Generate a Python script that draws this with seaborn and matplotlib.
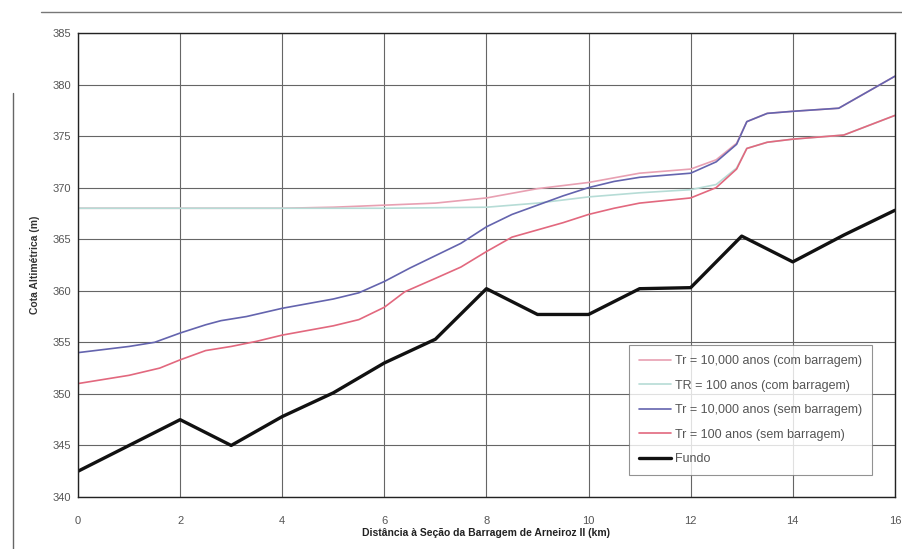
import matplotlib
matplotlib.use("Agg")
import matplotlib.pyplot as plt
import seaborn as sns
from matplotlib.lines import Line2D

# ---- data ----
fundo_km = [0, 2, 3, 4, 5, 6, 7, 8, 9, 10, 11, 12, 13, 14, 15, 16]
fundo = [342.5, 347.5, 345.0, 347.8, 350.1, 353.0, 355.3, 360.2, 357.7, 357.7,
         360.2, 360.3, 365.3, 362.8, 365.4, 367.8]

sem10k_km = [0, 1, 1.5, 2, 2.5, 2.8, 3.3, 4, 5, 5.5, 6, 6.5, 7, 7.5, 8, 8.5, 9, 9.5,
             10, 10.5, 11, 12, 12.5, 12.9, 13.1, 13.5, 14, 14.9, 16]
sem10k = [354.0, 354.6, 355.0, 355.9, 356.7, 357.1, 357.5, 358.3, 359.2, 359.8,
          360.9, 362.2, 363.4, 364.6, 366.2, 367.4, 368.3, 369.2, 370.0, 370.6,
          371.0, 371.4, 372.5, 374.2, 376.4, 377.2, 377.4, 377.7, 380.8]

sem100_km = [0, 1, 1.6, 2, 2.5, 3, 3.5, 4, 5, 5.5, 6, 6.4, 7, 7.5, 8, 8.5, 9, 9.5,
             10, 10.5, 11, 12, 12.5, 12.9, 13.1, 13.5, 14, 15, 16]
sem100 = [351.0, 351.8, 352.5, 353.3, 354.2, 354.6, 355.1, 355.7, 356.6, 357.2,
          358.4, 359.9, 361.2, 362.3, 363.8, 365.2, 365.9, 366.6, 367.4, 368.0,
          368.5, 369.0, 370.0, 371.8, 373.8, 374.4, 374.7, 375.1, 377.0]

com10k_km = [0, 2, 4, 5, 6, 7, 8, 9, 10, 11, 12, 12.5, 12.9, 13.1, 13.5, 14, 14.9, 16]
com10k = [368.0, 368.0, 368.0, 368.1, 368.3, 368.5, 369.0, 369.9, 370.5, 371.4,
          371.8, 372.7, 374.3, 376.4, 377.2, 377.4, 377.7, 380.8]

com100_km = [0, 2, 4, 6, 8, 9, 10, 11, 12, 12.5, 12.9, 13.1, 13.5, 14, 15, 16]
com100 = [368.0, 368.0, 368.0, 368.0, 368.1, 368.5, 369.1, 369.5, 369.8, 370.3,
          371.9, 373.8, 374.4, 374.7, 375.1, 377.0]

labels = ["Tr = 10,000 anos (com barragem)", "TR = 100 anos (com barragem)",
          "Tr = 10,000 anos (sem barragem)", "Tr = 100 anos (sem barragem)", "Fundo"]
yticks = [340, 345, 350, 355, 360, 365, 370, 375, 380, 385]
xticks = [0, 2, 4, 6, 8, 10, 12, 14, 16]

sns.set_style("white")
plt.rcParams['font.family'] = ['Liberation Sans', 'DejaVu Sans']

fig = plt.figure(figsize=(9.03, 5.49), dpi=100)
ax = fig.add_axes([0.0864, 0.0947, 0.9046, 0.8453])

series = [
    (com10k_km, com10k, "#e8a0b2", 1.2),
    (com100_km, com100, "#b6dcd6", 1.2),
    (sem10k_km, sem10k, "#6464ae", 1.2),
    (sem100_km, sem100, "#e2687e", 1.2),
    (fundo_km, fundo, "#111111", 2.4),
]
for (xs, ys, col, lw), lab in zip(series, labels):
    sns.lineplot(x=xs, y=ys, ax=ax, color=col, linewidth=lw, label=lab,
                 sort=False, estimator=None)

ax.set_xlim(0, 16)
ax.set_ylim(340, 385)
ax.set_xticks(xticks)
ax.set_yticks(yticks)
ax.set_xticklabels([str(t) for t in xticks])
ax.set_yticklabels([str(t) for t in yticks])
ax.tick_params(axis='both', labelsize=8, colors="#555555", length=3,
               direction='out')
ax.tick_params(axis='x', pad=11)
ax.tick_params(axis='y', pad=2)
ax.tick_params(axis='both', color="#222222")
ax.grid(True, color="#666666", linewidth=0.8)
ax.set_axisbelow(True)
for s in ax.spines.values():
    s.set_color("#222222")
    s.set_linewidth(1.0)

ax.set_xlabel("Distância à Seção da Barragem de Arneiroz II (km)", fontsize=7.5,
              fontweight='bold', color="#222222", labelpad=1)
ax.set_ylabel("Cota Altimétrica (m)", fontsize=7.5, fontweight='bold',
              color="#333333", labelpad=9)

leg = ax.legend(loc='lower right', bbox_to_anchor=(0.972, 0.047), fontsize=9,
                frameon=True, fancybox=False, edgecolor="#777777",
                handlelength=2.6, handletextpad=0.3, labelspacing=1.0,
                borderpad=0.8, borderaxespad=0)
leg.get_frame().set_linewidth(0.8)
for t in leg.get_texts():
    t.set_color("#555555")

# outer chart-area border (scanned page frame)
fig.add_artist(Line2D([0.0144, 0.0144], [0.0, 0.83], transform=fig.transFigure,
                      color="#666666", linewidth=1.0))
fig.add_artist(Line2D([0.045, 1.0], [0.978, 0.978], transform=fig.transFigure,
                      color="#777777", linewidth=1.0))

fig.savefig("out.png", dpi=100)
